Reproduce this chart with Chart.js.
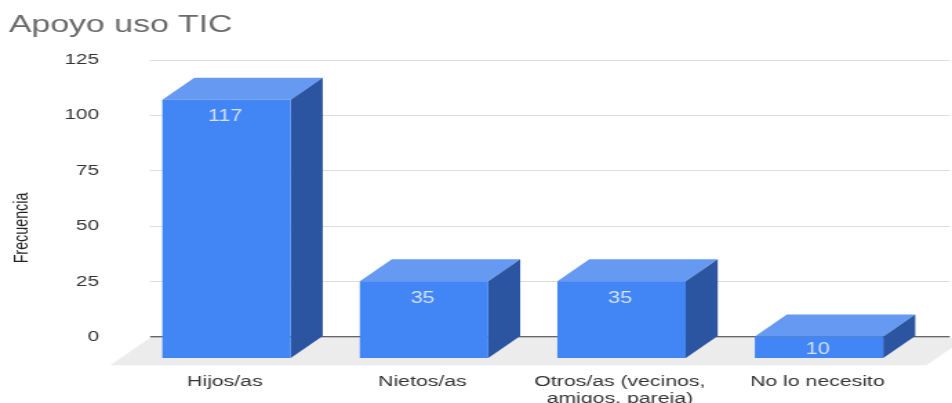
<!DOCTYPE html>
<html>
<head>
<meta charset="utf-8">
<title>Apoyo uso TIC</title>
<script src="https://cdn.jsdelivr.net/npm/chart.js@4"></script>
<style>
    html, body { margin: 0; padding: 0; background: #fff; overflow: hidden; }
    /* the reference is a picture stretched sideways and soft, so the canvas is too */
    #tic { display: block; transform: scaleX(1.3797); transform-origin: 0 0; filter: blur(0.45px); }
</style>
</head>
<body>
<canvas id="tic" width="690" height="403"></canvas>
<script>
const categories = ['Hijos/as', 'Nietos/as', ['Otros/as (vecinos,', 'amigos, pareja)'], 'No lo necesito'];
const frecuencia = [117, 35, 35, 10];
const yTicks = [0, 25, 50, 75, 100, 125];

const STRETCH = 1.3797;
const DEPTH_X = 32 / STRETCH;
const DEPTH_Y = 22;

function poly(ctx, color, pts) {
    ctx.fillStyle = color;
    ctx.beginPath();
    pts.forEach((p, i) => i ? ctx.lineTo(p[0], p[1]) : ctx.moveTo(p[0], p[1]));
    ctx.closePath();
    ctx.fill();
}

// Fake 3D: the scales describe the back wall, the real bars get pushed forward
const box3d = {
    id: 'box3d',
    beforeDatasetsDraw(chart) {
        const ctx = chart.ctx;
        const y0 = chart.scales.y.getPixelForValue(0);
        const a = chart.chartArea;
        poly(ctx, '#ececec', [
            [a.left - 7, y0 + 1],
            [a.right + 12, y0 + 1],
            [a.right - 17, y0 + 28.5],
            [a.left - 36, y0 + 28.5]
        ]);
    },
    beforeDatasetDraw(chart, args) {
        const ctx = chart.ctx;
        args.meta.data.forEach(bar => {
            const l = bar.x - bar.width / 2, r = bar.x + bar.width / 2;
            poly(ctx, '#6699f1', [[l - DEPTH_X, bar.y + DEPTH_Y], [r - DEPTH_X, bar.y + DEPTH_Y], [r, bar.y], [l, bar.y]]);
            poly(ctx, '#2b55a0', [[r - DEPTH_X, bar.y + DEPTH_Y], [r, bar.y], [r, bar.base], [r - DEPTH_X, bar.base + DEPTH_Y]]);
        });
        ctx.save();
        ctx.translate(-DEPTH_X, DEPTH_Y);
    },
    afterDatasetDraw(chart, args) {
        const ctx = chart.ctx;
        ctx.restore();
        // value labels inside the front face
        ctx.save();
        ctx.font = '15.6px "Liberation Sans"';
        ctx.fillStyle = '#d3e2fd';
        ctx.textAlign = 'center';
        ctx.textBaseline = 'middle';
        args.meta.data.forEach((bar, i) => {
            const h = bar.base - bar.y;
            ctx.fillText(frecuencia[i], bar.x - DEPTH_X - 1, bar.y + DEPTH_Y + Math.min(17, h / 2 + 2));
        });
        ctx.restore();
    },
    afterDraw(chart) {
        const ctx = chart.ctx;
        ctx.save();
        ctx.translate(16, 228);
        ctx.rotate(-Math.PI / 2);
        ctx.font = '14.3px "Liberation Sans"';
        ctx.fillStyle = '#222222';
        ctx.textAlign = 'center';
        ctx.textBaseline = 'middle';
        ctx.fillText('Frecuencia', 0, 0);
        ctx.restore();
    }
};

new Chart(document.getElementById('tic').getContext('2d'), {
    type: 'bar',
    data: {
        labels: categories,
        datasets: [{
            label: 'Frecuencia',
            data: frecuencia,
            backgroundColor: '#4285f4',
            borderWidth: 0,
            barPercentage: 0.65,
            categoryPercentage: 1,
            clip: false
        }]
    },
    plugins: [box3d],
    options: {
        responsive: false,
        animation: false,
        layout: {
            autoPadding: false,
            padding: { left: 6.5, right: 1.6, top: 0, bottom: 0 }
        },
        plugins: {
            legend: { display: false },
            tooltip: { enabled: false },
            title: {
                display: true,
                text: 'Apoyo uso TIC',
                align: 'start',
                color: '#6a6a6a',
                font: { family: '"Liberation Sans"', size: 24.5, weight: 'normal', lineHeight: 1.2 },
                padding: { top: 10.5, bottom: 20.1 }
            }
        },
        scales: {
            x: {
                // tickLength instead of ticks.padding: padding eats into the scale width
                grid: { display: false, tickLength: 36 },
                border: { display: false },
                ticks: {
                    color: '#333333',
                    font: { family: '"Liberation Sans"', size: 15.4, lineHeight: 1.12 },
                    labelOffset: -DEPTH_X - 1.2,
                    padding: 0,
                    maxRotation: 0,
                    autoSkip: false
                },
                afterFit(scale) { scale.height = 66.3; }
            },
            y: {
                min: 0,
                max: 125,
                afterBuildTicks(scale) { scale.ticks = yTicks.map(v => ({ value: v })); },
                grid: {
                    tickLength: 7,
                    color: ctx => ctx.tick.value === 0 ? '#666666' : '#dddddd',
                    lineWidth: ctx => ctx.tick.value === 0 ? 1.6 : 1
                },
                border: { display: false },
                ticks: {
                    color: '#333333',
                    font: { family: '"Liberation Sans"', size: 15 },
                    padding: 37
                },
                afterFit(scale) { scale.width = 109.3; }
            }
        }
    }
});
</script>
</body>
</html>
